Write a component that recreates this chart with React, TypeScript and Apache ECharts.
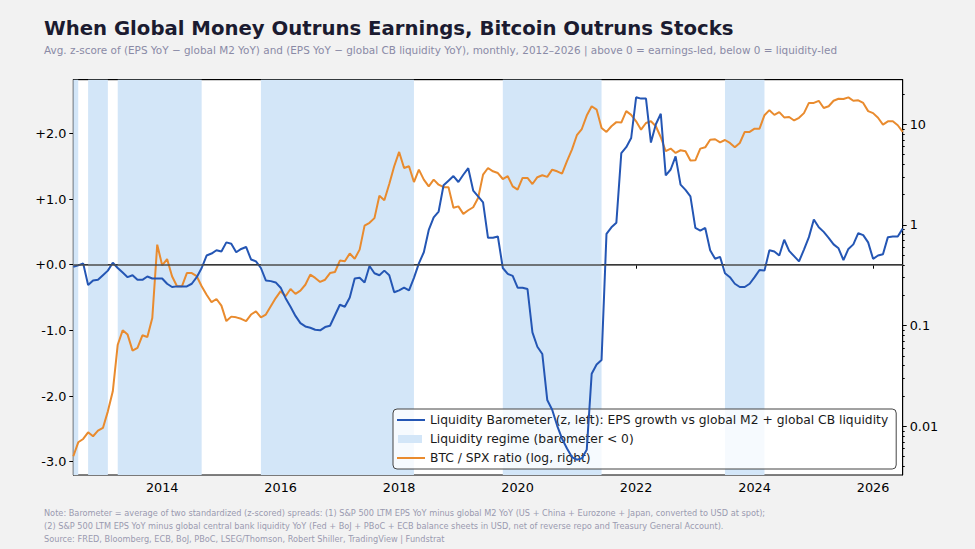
import React, { useEffect, useRef } from "react";
import * as echarts from "echarts";

// Monthly observations, July 2012 .. July 2026
const START_YEAR = 2012;
const START_MONTH = 7;

// Liquidity Barometer (avg z-score), left axis
const barometer = [
  -0.03, -0.01, 0.02, -0.31, -0.24, -0.23, -0.16, -0.09, 0.03, -0.05,
  -0.12, -0.19, -0.16, -0.23, -0.23, -0.18, -0.21, -0.21, -0.21, -0.29,
  -0.34, -0.33, -0.33, -0.33, -0.29, -0.19, -0.05, 0.14, 0.17, 0.22,
  0.2, 0.34, 0.32, 0.19, 0.24, 0.27, 0.08, 0.05, -0.05, -0.24,
  -0.25, -0.27, -0.35, -0.51, -0.64, -0.78, -0.89, -0.94, -0.96, -0.99,
  -1.0, -0.95, -0.93, -0.77, -0.61, -0.64, -0.5, -0.21, -0.2, -0.27,
  -0.02, -0.13, -0.16, -0.09, -0.16, -0.42, -0.39, -0.35, -0.39, -0.2,
  0.02, 0.19, 0.53, 0.72, 0.81, 1.21, 1.28, 1.35, 1.26, 1.37,
  1.47, 1.13, 1.04, 0.95, 0.41, 0.41, 0.43, -0.05, -0.14, -0.17,
  -0.35, -0.35, -0.37, -1.03, -1.25, -1.36, -2.06, -2.21, -2.45, -2.65,
  -2.8, -2.93, -2.97, -2.95, -2.82, -1.66, -1.52, -1.45, 0.47, 0.57,
  0.64, 1.7, 1.79, 1.93, 2.55, 2.53, 2.53, 1.86, 2.14, 2.3,
  1.36, 1.45, 1.65, 1.22, 1.14, 1.04, 0.56, 0.52, 0.56, 0.22,
  0.09, 0.12, -0.13, -0.19, -0.29, -0.34, -0.34, -0.29, -0.19, -0.08,
  -0.09, 0.22, 0.2, 0.14, 0.38, 0.21, 0.13, 0.05, 0.23, 0.42,
  0.69, 0.57, 0.5, 0.41, 0.31, 0.25, 0.07, 0.24, 0.31, 0.48,
  0.45, 0.34, 0.09, 0.14, 0.16, 0.42, 0.43, 0.43, 0.55,
];

// BTC / SPX ratio, right (log) axis
const btcSpx = [
  0.00505, 0.00695, 0.0075, 0.00873, 0.00798, 0.00906, 0.00964, 0.0141, 0.0223, 0.0647,
  0.0899, 0.0815, 0.0565, 0.0601, 0.0802, 0.0773, 0.119, 0.637, 0.398, 0.459,
  0.31, 0.246, 0.246, 0.333, 0.333, 0.31, 0.246, 0.203, 0.171, 0.184,
  0.158, 0.111, 0.123, 0.121, 0.117, 0.111, 0.129, 0.139, 0.121, 0.129,
  0.156, 0.188, 0.22, 0.196, 0.231, 0.207, 0.223, 0.255, 0.321, 0.298,
  0.272, 0.286, 0.333, 0.341, 0.443, 0.436, 0.521, 0.462, 0.569, 0.984,
  1.05, 1.17, 1.95, 1.76, 2.55, 3.83, 5.31, 3.68, 3.83, 2.67,
  3.54, 2.82, 2.42, 2.82, 2.51, 2.37, 2.37, 1.48, 1.53, 1.29,
  1.4, 1.5, 1.85, 3.16, 3.68, 3.41, 3.28, 2.86, 3.05, 2.42,
  2.24, 2.93, 2.93, 2.55, 2.98, 3.12, 3.0, 3.54, 3.41, 3.23,
  4.3, 5.6, 7.78, 8.97, 12.2, 15.1, 14.0, 9.18, 8.39, 9.55,
  10.5, 10.4, 13.5, 12.4, 10.7, 8.83, 10.3, 10.7, 9.55, 7.43,
  5.4, 5.73, 5.19, 5.52, 5.4, 4.36, 4.39, 5.73, 5.9, 7.03,
  7.1, 6.62, 6.98, 6.52, 5.9, 6.52, 8.39, 8.39, 9.04, 9.04,
  12.3, 13.8, 12.4, 13.2, 11.7, 11.8, 10.9, 11.6, 12.9, 16.3,
  16.3, 17.1, 14.5, 15.1, 17.1, 17.9, 17.8, 18.5, 17.1, 17.3,
  16.3, 13.5, 12.9, 11.6, 9.91, 10.7, 10.7, 9.77, 8.39,
];

const xTickYears = [2014, 2016, 2018, 2020, 2022, 2024, 2026];
const leftTicks = [-3, -2, -1, 0, 1, 2];
const rightTicks = [0.01, 0.1, 1, 10];
const rightMinorTicks = [
  0.004, 0.005, 0.006, 0.007, 0.008, 0.009,
  0.02, 0.03, 0.04, 0.05, 0.06, 0.07, 0.08, 0.09,
  0.2, 0.3, 0.4, 0.5, 0.6, 0.7, 0.8, 0.9,
  2, 3, 4, 5, 6, 7, 8, 9, 20,
];

const TITLE = "When Global Money Outruns Earnings, Bitcoin Outruns Stocks";
const SUBTITLE =
  "Avg. z-score of (EPS YoY \u2212 global M2 YoY) and (EPS YoY \u2212 global CB liquidity YoY), monthly, 2012\u20132026 | above 0 = earnings-led, below 0 = liquidity-led";
const NOTE_LINES = [
  "Note: Barometer = average of two standardized (z-scored) spreads: (1) S&P 500 LTM EPS YoY minus global M2 YoY (US + China + Eurozone + Japan, converted to USD at spot);",
  "(2) S&P 500 LTM EPS YoY minus global central bank liquidity YoY (Fed + BoJ + PBoC + ECB balance sheets in USD, net of reverse repo and Treasury General Account).",
  "Source: FRED, Bloomberg, ECB, BoJ, PBoC, LSEG/Thomson, Robert Shiller, TradingView | Fundstrat",
];

const NAME_BARO = "Liquidity Barometer (z, left): EPS growth vs global M2 + global CB liquidity";
const NAME_REGIME = "Liquidity regime (barometer < 0)";
const NAME_BTC = "BTC / SPX ratio (log, right)";

const BLUE = "#2456b4";
const ORANGE = "#e98b2e";
const SHADE = "#d3e6f8";
const FONT = "DejaVu Sans";

const monthX = barometer.map((_, i) => START_YEAR + (START_MONTH - 1 + i) / 12);

function negativeSpans(): [number, number][] {
  const spans: [number, number][] = [];
  let start = -1;
  for (let i = 0; i < barometer.length; i++) {
    if (barometer[i] < 0) {
      if (start < 0) start = i;
    } else if (start >= 0) {
      spans.push([monthX[start], monthX[i - 1]]);
      start = -1;
    }
  }
  if (start >= 0) spans.push([monthX[start], monthX[barometer.length - 1]]);
  return spans;
}

const LINE_ICON = "path://M0,0 M0,6 L28,6 L28,8 L0,8 Z M28,14";
const PATCH_ICON = "path://M0,0 M1,3 L25,3 L25,11 L1,11 Z M28,14";

export default function App() {
  const ref = useRef<HTMLDivElement>(null);

  useEffect(() => {
    if (!ref.current) return;
    const chart = echarts.init(ref.current, undefined, { renderer: "svg" });
    const xMin = monthX[0];
    const xMax = monthX[monthX.length - 1];

    const option: any = {
      animation: false,
      backgroundColor: "#f2f2f2",
      textStyle: { fontFamily: FONT },
      title: [
        {
          text: TITLE,
          left: 44,
          top: 18,
          padding: 0,
          textStyle: { fontFamily: FONT, fontWeight: "bold", fontSize: 19.7, color: "#1b1b30" },
        },
        {
          text: SUBTITLE,
          left: 44,
          top: 45,
          padding: 0,
          textStyle: { fontFamily: FONT, fontWeight: "normal", fontSize: 10.45, color: "#8a8aa6" },
        },
        ...NOTE_LINES.map((t, k) => ({
          text: t,
          left: 44,
          top: 509 + k * 13,
          padding: 0,
          textStyle: { fontFamily: FONT, fontWeight: "normal", fontSize: 8.2, color: "#9a9ab0" },
        })),
      ],
      grid: {
        left: 73.3,
        right: 72.3,
        top: 79.7,
        bottom: 74,
        show: true,
        backgroundColor: "#ffffff",
        borderColor: "#000000",
        borderWidth: 1,
        containLabel: false,
      },
      legend: {
        orient: "vertical",
        left: 393,
        top: 409,
        selectedMode: false,
        backgroundColor: "rgba(255,255,255,0.8)",
        borderColor: "#444444",
        borderWidth: 1,
        borderRadius: 4,
        padding: [4, 8, 4, 4],
        itemGap: 5,
        itemWidth: 28,
        itemHeight: 14,
        textStyle: { fontFamily: FONT, fontSize: 12.3, color: "#1a1a1a" },
        data: [
          { name: NAME_BARO, icon: LINE_ICON, itemStyle: { color: BLUE, borderWidth: 0 } },
          { name: NAME_REGIME, icon: PATCH_ICON, itemStyle: { color: SHADE, borderWidth: 0 } },
          { name: NAME_BTC, icon: LINE_ICON, itemStyle: { color: ORANGE, borderWidth: 0 } },
        ],
      },
      xAxis: [
        {
          type: "value",
          position: "bottom",
          min: xMin,
          max: xMax,
          splitLine: { show: false },
          axisLine: { show: true, lineStyle: { color: "#000", width: 1 } },
          axisTick: {
            show: true,
            inside: false,
            length: 4,
            customValues: xTickYears,
            lineStyle: { color: "#000" },
          },
          axisLabel: {
            customValues: xTickYears,
            formatter: (v: number) => String(Math.round(v)),
            fontFamily: FONT,
            fontSize: 12.8,
            color: "#000",
            margin: 6,
          },
        },
        {
          type: "value",
          position: "top",
          min: xMin,
          max: xMax,
          splitLine: { show: false },
          axisLine: { show: true, lineStyle: { color: "#000", width: 1 } },
          axisTick: { show: false },
          axisLabel: { show: false },
        },
      ],
      yAxis: [
        {
          type: "value",
          position: "left",
          min: -3.203,
          max: 2.818,
          splitLine: { show: false },
          axisLine: { show: true, lineStyle: { color: "#000", width: 1 } },
          axisTick: { show: true, length: 4, customValues: leftTicks, lineStyle: { color: "#000" } },
          axisLabel: {
            customValues: leftTicks,
            formatter: (v: number) => (v >= 0 ? "+" : "") + v.toFixed(1),
            fontFamily: FONT,
            fontSize: 12.8,
            color: "#000",
            margin: 7,
          },
        },
        {
          type: "log",
          logBase: 10,
          position: "right",
          offset: 0,
          min: 0.00329,
          max: 27.7,
          splitLine: { show: false },
          axisLine: { show: true, lineStyle: { color: "#000", width: 1 } },
          axisTick: { show: true, length: 4, customValues: rightTicks, lineStyle: { color: "#000" } },
          axisLabel: {
            customValues: rightTicks,
            formatter: (v: number) => String(v),
            fontFamily: FONT,
            fontSize: 12.8,
            color: "#000",
            margin: 7,
          },
        },
        {
          type: "log",
          logBase: 10,
          position: "right",
          offset: 0,
          min: 0.00329,
          max: 27.7,
          splitLine: { show: false },
          axisLine: { show: false },
          axisTick: { show: true, length: 2, customValues: rightMinorTicks, lineStyle: { color: "#000" } },
          axisLabel: { show: false },
        },
      ],
      series: [
        {
          name: NAME_BARO,
          type: "line",
          yAxisIndex: 0,
          color: BLUE,
          symbol: "none",
          z: 4,
          lineStyle: { color: BLUE, width: 2 },
          data: monthX.map((x, i) => [x, barometer[i]]),
        },
        {
          name: NAME_REGIME,
          type: "line",
          yAxisIndex: 0,
          color: SHADE,
          symbol: "none",
          z: 1,
          data: [],
          markArea: {
            silent: true,
            itemStyle: { color: SHADE, opacity: 1 },
            data: negativeSpans().map(([a, b]) => [{ xAxis: a }, { xAxis: b }]),
          },
          markLine: {
            silent: true,
            symbol: ["none", "none"],
            label: { show: false },
            lineStyle: { color: "#4d4d4d", width: 1.5, type: "solid" },
            data: [{ yAxis: 0 }],
          },
        },
        {
          name: NAME_BTC,
          type: "line",
          yAxisIndex: 1,
          color: ORANGE,
          symbol: "none",
          z: 3,
          lineStyle: { color: ORANGE, width: 2 },
          data: monthX.map((x, i) => [x, btcSpx[i]]),
        },
      ],
    };

    chart.setOption(option);
    return () => chart.dispose();
  }, []);

  return (
    <div
      ref={ref}
      style={{ position: "fixed", left: 0, top: 0, width: 975, height: 549 }}
    />
  );
}
